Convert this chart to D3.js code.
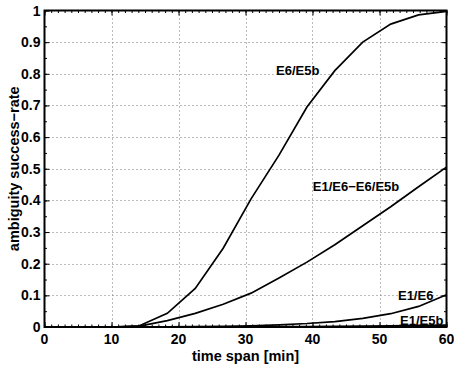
<!DOCTYPE html>
<html>
<head>
<meta charset="utf-8">
<script src="https://cdn.jsdelivr.net/npm/d3@7"></script>
<style>
  body { margin: 0; background: #fff; }
  svg { display: block; font-family: "Liberation Sans", Arial, sans-serif; font-weight: bold; }
</style>
</head>
<body>
<div id="chart"></div>
<script>
// time span samples [min]
const timeSpan = [10, 14.17, 18.33, 22.5, 26.67, 30.83, 35, 39.17, 43.33, 47.5, 51.67, 55.83, 60];

const e6e5b = [0, 0.004, 0.043, 0.122, 0.249, 0.405, 0.543, 0.695, 0.81, 0.9, 0.957, 0.986, 0.997];
const e1e6e6e5b = [0, 0.003, 0.02, 0.043, 0.072, 0.107, 0.155, 0.205, 0.26, 0.32, 0.38, 0.443, 0.505];
const e1e6 = [0, 0, 0.0005, 0.001, 0.002, 0.004, 0.007, 0.011, 0.017, 0.027, 0.042, 0.065, 0.102];
const e1e5b = [0, 0, 0, 0, 0, 0.0005, 0.001, 0.0015, 0.002, 0.003, 0.004, 0.005, 0.006];

const seriesNames = ['E6/E5b', 'E1/E6\u2212E6/E5b', 'E1/E6', 'E1/E5b'];
const seriesValues = [e6e5b, e1e6e6e5b, e1e6, e1e5b];
// label anchor, in data units
const labelX = [37.8, 46.5, 55.4, 56.3];
const labelY = [0.795, 0.43, 0.085, 0.006];

const xTicks = [0, 10, 20, 30, 40, 50, 60];
const yTicks = [0, 0.1, 0.2, 0.3, 0.4, 0.5, 0.6, 0.7, 0.8, 0.9, 1];

const W = 454, H = 366;
const margin = { left: 44.5, right: 7.5, top: 10.5, bottom: 39 };

const svg = d3.select('#chart').append('svg').attr('width', W).attr('height', H);

const x = d3.scaleLinear().domain([0, 60]).range([margin.left, W - margin.right]);
const y = d3.scaleLinear().domain([0, 1]).range([H - margin.bottom, margin.top]);

// dotted grid
const grid = svg.append('g').attr('stroke', '#777').attr('stroke-width', 1).attr('stroke-dasharray', '1,3');
grid.selectAll('.gx').data(xTicks.slice(1, -1)).enter().append('line').attr('class', 'gx')
  .attr('x1', d => Math.round(x(d)) + 0.5).attr('x2', d => Math.round(x(d)) + 0.5)
  .attr('y1', y(1)).attr('y2', y(0));
grid.selectAll('.gy').data(yTicks.slice(1, -1)).enter().append('line').attr('class', 'gy')
  .attr('y1', d => Math.round(y(d)) + 0.5).attr('y2', d => Math.round(y(d)) + 0.5)
  .attr('x1', x(0)).attr('x2', x(60));

// curves
const line = d3.line().x(d => x(d[0])).y(d => y(d[1]));
svg.append('g').selectAll('path').data(seriesValues).enter().append('path')
  .attr('d', vals => line(vals.map((v, i) => [timeSpan[i], v])))
  .attr('fill', 'none').attr('stroke', '#000').attr('stroke-width', 1.7);

// axes, ticks inside on all four sides
const xMinor = d3.range(0, 61, 1);
const yMinor = d3.range(0, 1.0001, 0.05);
function inward(axis, len) { return axis.tickSize(-len).tickPadding(0); }

const innerW = W - margin.left - margin.right;
const innerH = H - margin.top - margin.bottom;

const gBottom = svg.append('g').attr('transform', `translate(0,${y(0)})`);
gBottom.call(inward(d3.axisBottom(x).tickValues(xMinor).tickFormat(''), 2.5));
gBottom.append('g').call(inward(d3.axisBottom(x).tickValues(xTicks).tickFormat(''), 5));

const gTop = svg.append('g').attr('transform', `translate(0,${y(1)})`);
gTop.call(inward(d3.axisTop(x).tickValues(xMinor).tickFormat(''), 2.5));
gTop.append('g').call(inward(d3.axisTop(x).tickValues(xTicks).tickFormat(''), 5));

const gLeft = svg.append('g').attr('transform', `translate(${x(0)},0)`);
gLeft.call(inward(d3.axisLeft(y).tickValues(yMinor).tickFormat(''), 2.5));
gLeft.append('g').call(inward(d3.axisLeft(y).tickValues(yTicks).tickFormat(''), 5));

const gRight = svg.append('g').attr('transform', `translate(${x(60)},0)`);
gRight.call(inward(d3.axisRight(y).tickValues(yMinor).tickFormat(''), 2.5));
gRight.append('g').call(inward(d3.axisRight(y).tickValues(yTicks).tickFormat(''), 5));

svg.selectAll('.domain').remove();
svg.selectAll('.tick line').attr('stroke', '#000').attr('stroke-width', 1);

// tick labels
const labels = svg.append('g').attr('fill', '#000').attr('font-size', 14);
labels.selectAll('.xl').data(xTicks).enter().append('text').attr('class', 'xl')
  .attr('x', d => x(d)).attr('y', y(0) + 16.5).attr('text-anchor', 'middle').text(d => d);
labels.selectAll('.yl').data(yTicks).enter().append('text').attr('class', 'yl')
  .attr('x', x(0) - 4).attr('y', d => y(d) + 5).attr('text-anchor', 'end')
  .text(d => d3.format('~g')(d));

// box
svg.append('rect').attr('x', x(0)).attr('y', y(1)).attr('width', innerW).attr('height', innerH)
  .attr('fill', 'none').attr('stroke', '#000').attr('stroke-width', 2);

// series labels
svg.append('g').selectAll('text').data(seriesNames).enter().append('text')
  .attr('x', (d, i) => x(labelX[i])).attr('y', (d, i) => y(labelY[i]))
  .attr('text-anchor', 'middle').attr('font-size', 13).text(d => d);

// axis titles
svg.append('text').attr('x', x(30)).attr('y', 361).attr('text-anchor', 'middle')
  .attr('font-size', 14.5).text('time span [min]');
svg.append('text').attr('transform', `translate(19,${y(0.5)}) rotate(-90)`)
  .attr('text-anchor', 'middle').attr('font-size', 14.5).text('ambiguity success\u2212rate');
</script>
</body>
</html>
